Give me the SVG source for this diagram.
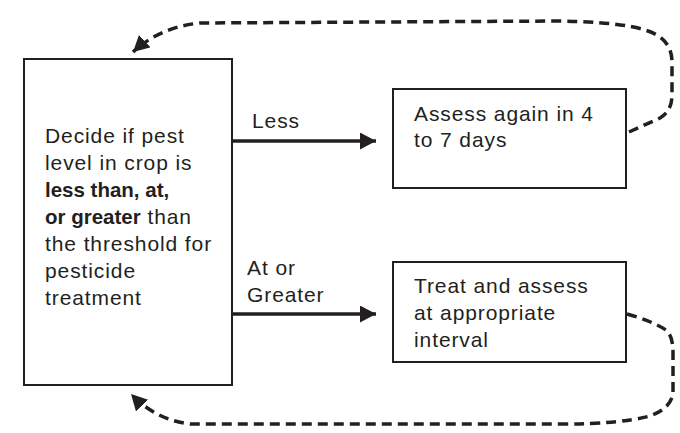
<svg xmlns="http://www.w3.org/2000/svg" width="680" height="433" viewBox="0 0 680 433">
<style>
.box{fill:#fff;stroke:#231f20;stroke-width:2}
.t{font-family:"Liberation Sans",Arial,sans-serif;font-size:21px;letter-spacing:0.9px;fill:#231f20}
.b{font-weight:bold;letter-spacing:0;font-size:20.5px}
.solid{fill:none;stroke:#231f20;stroke-width:3.5}
.dash{fill:none;stroke:#231f20;stroke-width:3.5;stroke-dasharray:10,6}
</style>
<defs>
<marker id="ah" markerUnits="userSpaceOnUse" markerWidth="18" markerHeight="18" refX="16" refY="8.5" orient="auto">
<path d="M0,0 L16,8.5 L0,17 z" fill="#231f20"/>
</marker>
</defs>
<rect width="680" height="433" fill="#fff"/>
<g id="connectors">
<path class="solid" d="M232,141 L376,141" marker-end="url(#ah)"/>
<path class="solid" d="M232,314 L376,314" marker-end="url(#ah)"/>
<path class="dash" d="M629,132 L660,118 Q672,111 672,95 L672,62 Q672,38 645,30 Q620,22 560,21 L200,23 Q160,27 133,52" marker-end="url(#ah)"/>
<path class="dash" d="M627,314 Q652,321 666,330 Q673,336 673,352 L673,392 Q672,408 650,416 Q620,424 560,424 L190,424 Q156,420 131,394" marker-end="url(#ah)"/>
<text class="t" x="252" y="128">Less</text>
<text class="t" x="247" y="275">At or</text>
<text class="t" x="247" y="302">Greater</text>
</g>
<g id="decide">
<rect class="box" x="24" y="59" width="208" height="326"/>
<text class="t" x="45" y="143">Decide if pest</text>
<text class="t" x="45" y="170">level in crop is</text>
<text class="t b" x="45" y="197">less than, at,</text>
<text class="t" x="45" y="224"><tspan class="b">or greater</tspan> than</text>
<text class="t" x="45" y="251">the threshold for</text>
<text class="t" x="45" y="278">pesticide</text>
<text class="t" x="45" y="305">treatment</text>
</g>
<g id="assess">
<rect class="box" x="393" y="89" width="233" height="99"/>
<text class="t" x="414" y="121">Assess again in 4</text>
<text class="t" x="414" y="147">to 7 days</text>
</g>
<g id="treat">
<rect class="box" x="393" y="262" width="233" height="100"/>
<text class="t" x="414" y="293">Treat and assess</text>
<text class="t" x="414" y="320">at appropriate</text>
<text class="t" x="414" y="347">interval</text>
</g>
</svg>
